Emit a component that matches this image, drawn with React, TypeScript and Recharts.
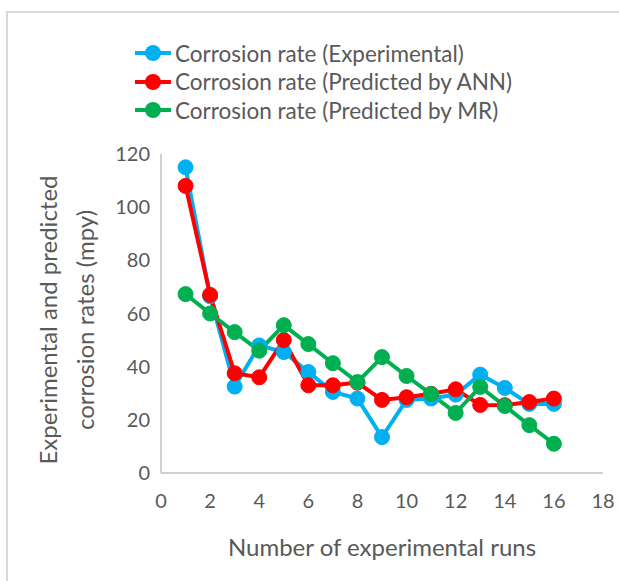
import React from "react";
import { LineChart, Line, XAxis, YAxis, Label } from "recharts";

const runs = [1, 2, 3, 4, 5, 6, 7, 8, 9, 10, 11, 12, 13, 14, 15, 16];
const experimental = [115, 66.5, 32.5, 48, 45.5, 38, 30.5, 28, 13.5, 27.5, 28, 29.5, 37, 32, 26, 26];
const predictedANN = [108, 67, 37.5, 36, 50, 33, 33, 34, 27.5, 28.5, 29.8, 31.5, 25.6, 25.5, 26.7, 28];
const predictedMR = [67.3, 60, 53, 46, 55.6, 48.5, 41.3, 34.2, 43.6, 36.5, 29.7, 22.6, 32.4, 25.2, 18, 11];
const xTicks = [0, 2, 4, 6, 8, 10, 12, 14, 16, 18];
const yTicks = [0, 20, 40, 60, 80, 100, 120];

const seriesInfo = [
  { key: "exp", name: "Corrosion rate (Experimental)", color: "#00B0F0" },
  { key: "ann", name: "Corrosion rate (Predicted by ANN)", color: "#FF0000" },
  { key: "mr", name: "Corrosion rate (Predicted by MR)", color: "#00B050" },
];

const data = runs.map((r, i) => ({
  run: r,
  exp: experimental[i],
  ann: predictedANN[i],
  mr: predictedMR[i],
}));

const FONT = "Lato, 'Open Sans', sans-serif";
const TEXT = "#595959";

const LegendBox = () => (
  <div style={{ position: "absolute", left: 133, top: 39, fontFamily: FONT, fontSize: 22.5, color: TEXT }}>
    {seriesInfo.map((s) => (
      <div key={s.key} style={{ display: "flex", alignItems: "center", height: 28.5, whiteSpace: "nowrap" }}>
        <svg width={40} height={20} style={{ marginRight: 2 }}>
          <line x1={2} y1={10} x2={38} y2={10} stroke={s.color} strokeWidth={4} />
          <circle cx={20} cy={10} r={8} fill={s.color} />
        </svg>
        <span>{s.name}</span>
      </div>
    ))}
  </div>
);

const YTitle = () => {
  const cy = 320;
  return (
    <text
      transform={`rotate(-90, 0, ${cy})`}
      x={0}
      y={cy}
      textAnchor="middle"
      fill={TEXT}
      fontSize={24}
      fontFamily={FONT}
    >
      <tspan x={0} dy={57}>Experimental and predicted</tspan>
      <tspan x={0} dy={37}>corrosion rates (mpy)</tspan>
    </text>
  );
};

export default function App() {
  return (
    <div style={{ position: "absolute", left: 0, top: 0, width: 619, height: 581, background: "#fff" }}>
      <div
        style={{
          position: "absolute",
          left: 6,
          top: 11,
          right: 0,
          bottom: 0,
          borderTop: "2px solid #d9d9d9",
          borderLeft: "2px solid #d9d9d9",
        }}
      />
      <div style={{ position: "absolute", left: 0, top: 0 }}>
        <LineChart width={619} height={581} data={data} margin={{ top: 154, right: 16, left: 0, bottom: 0 }}>
          <XAxis
            dataKey="run"
            type="number"
            domain={[0, 18]}
            ticks={xTicks}
            height={108}
            tickLine={false}
            tickSize={0}
            tickMargin={21}
            stroke="#d0d0d0"
            strokeWidth={2}
            tick={{ fill: TEXT, fontSize: 20, fontFamily: FONT }}
          >
            <Label
              value="Number of experimental runs"
              position="insideBottom"
              offset={25}
              fill={TEXT}
              fontSize={24}
              fontFamily={FONT}
            />
          </XAxis>
          <YAxis
            type="number"
            domain={[0, 120]}
            ticks={yTicks}
            width={161}
            tickLine={false}
            tickSize={0}
            tickMargin={11}
            stroke="#d0d0d0"
            strokeWidth={2}
            tick={{ fill: TEXT, fontSize: 20, fontFamily: FONT }}
          >
            <Label content={<YTitle />} />
          </YAxis>
          {seriesInfo.map((s) => (
            <Line
              key={s.key}
              dataKey={s.key}
              name={s.name}
              stroke={s.color}
              strokeWidth={4}
              dot={{ r: 7.5, fill: s.color, stroke: s.color, strokeWidth: 1 }}
              activeDot={false}
              isAnimationActive={false}
            />
          ))}
        </LineChart>
      </div>
      <LegendBox />
    </div>
  );
}
